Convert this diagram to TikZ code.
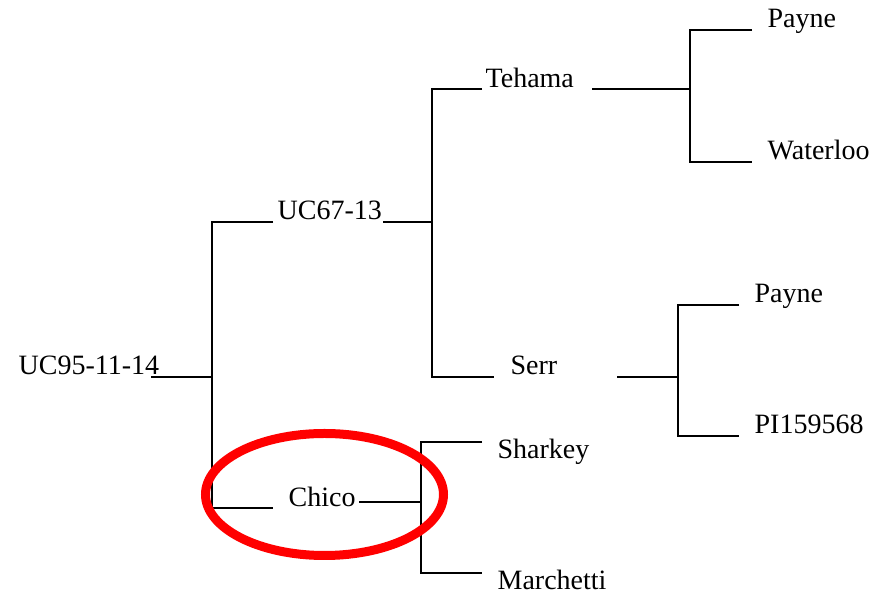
\documentclass[tikz,border=0pt]{standalone}
\usepackage{fontspec}
\setmainfont{Liberation Serif}
\begin{document}
\begin{tikzpicture}[x=0.5pt, y=-0.5pt, line width=0.65pt,
    lbl/.style={anchor=base west, inner sep=0pt, font=\fontsize{14pt}{16pt}\selectfont}]
      \useasboundingbox (0,0) rectangle (884,597);
      % labels
      \node[lbl] (uc95) at (18,375) {UC95-11-14};
      \node[lbl] (uc67) at (277,220) {UC67-13};
      \node[lbl] (tehama) at (485,88) {Tehama};
      \node[lbl] (payneA) at (767,28) {Payne};
      \node[lbl] (waterloo) at (767,160) {Waterloo};
      \node[lbl] (serr) at (510,375) {Serr};
      \node[lbl] (payneB) at (754,303) {Payne};
      \node[lbl] (pi) at (754,434) {PI159568};
      \node[lbl] (chico) at (288,507) {Chico};
      \node[lbl] (sharkey) at (497,459) {Sharkey};
      \node[lbl] (marchetti) at (497,590) {Marchetti};
      % line ends
      \coordinate (uc95r) at (151,377);
      \coordinate (uc67l) at (273,222);
      \coordinate (uc67r) at (383,222);
      \coordinate (chicol) at (273,508);
      \coordinate (chicor) at (359,502);
      \coordinate (tehamal) at (482,89);
      \coordinate (tehamar) at (592,89);
      \coordinate (serrl) at (494,377);
      \coordinate (serrr) at (617,377);
      \coordinate (payneAl) at (752,30);
      \coordinate (waterlool) at (752,162);
      \coordinate (payneBl) at (739,305);
      \coordinate (pil) at (739,436);
      \coordinate (sharkeyl) at (482,442);
      \coordinate (marchettil) at (482,573);
      % tree
      \draw (uc95r) -- (212,377);
      \draw (uc67l) -- (212,222) -- (212,508) -- (chicol);
      \draw (uc67r) -- (432,222);
      \draw (tehamal) -- (432,89) -- (432,377) -- (serrl);
      \draw (tehamar) -- (690,89);
      \draw (payneAl) -- (690,30) -- (690,162) -- (waterlool);
      \draw (serrr) -- (678,377);
      \draw (payneBl) -- (678,305) -- (678,436) -- (pil);
      \draw (chicor) -- (421,502);
      \draw (sharkeyl) -- (421,442) -- (421,573) -- (marchettil);
      % highlight
      \draw[red, line width=4.5pt] (324.5,494.5) ellipse [x radius=119, y radius=61];
\end{tikzpicture}
\end{document}
